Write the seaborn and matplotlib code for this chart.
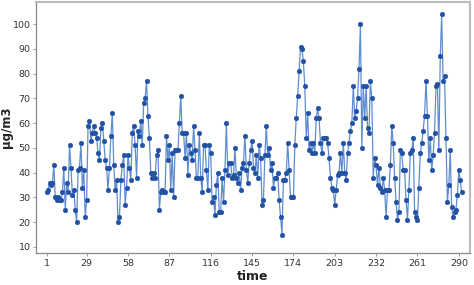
import matplotlib
matplotlib.use("Agg")
import matplotlib.pyplot as plt
import numpy as np
import pandas as pd
import seaborn as sns

# ---------------- Data ----------------
seg_001_029 = [32, 33, 36, 35, 36, 43, 30, 29, 30, 29, 29, 32, 42, 25, 36,
               32, 51, 42, 31, 33, 25, 20, 41, 42, 52, 34, 41, 22, 29]
seg_030_058 = [59, 61, 53, 56, 59, 56, 54, 48, 45, 58, 60, 53, 45, 42, 33,
               42, 55, 64, 43, 33, 37, 20, 22, 37, 43, 47, 27, 34, 47]
seg_059_087 = [42, 37, 56, 59, 51, 38, 57, 55, 61, 51, 68, 70, 77, 63, 54,
               40, 38, 40, 38, 47, 49, 25, 32, 33, 32, 32, 55, 45, 51]
seg_088_116 = [33, 48, 30, 49, 49, 49, 60, 71, 56, 56, 46, 56, 39, 51, 48,
               45, 59, 49, 38, 38, 56, 38, 32, 51, 51, 41, 33, 51, 48]
seg_117_145 = [28, 30, 23, 35, 40, 24, 24, 38, 28, 41, 60, 39, 44, 44, 38,
               39, 50, 38, 36, 40, 33, 42, 44, 55, 41, 36, 44, 49, 53]
seg_146_174 = [42, 40, 47, 38, 51, 46, 27, 29, 47, 59, 47, 50, 41, 44, 34,
               38, 38, 40, 29, 22, 15, 37, 37, 40, 52, 41, 30, 30, 30]
seg_175_203 = [51, 62, 71, 81, 91, 90, 85, 75, 54, 64, 49, 52, 48, 52, 48,
               62, 66, 62, 52, 48, 54, 54, 54, 52, 46, 38, 34, 33, 27]
seg_204_232 = [33, 39, 40, 48, 40, 52, 40, 37, 48, 52, 57, 60, 75, 62, 65,
               70, 82, 100, 50, 75, 62, 75, 58, 56, 77, 70, 38, 46, 43]
seg_233_261 = [35, 42, 34, 32, 38, 33, 22, 33, 33, 43, 59, 52, 38, 28, 21,
               24, 49, 48, 41, 41, 29, 21, 33, 48, 49, 54, 24, 22, 21]
seg_262_end = [34, 48, 52, 57, 63, 77, 63, 45, 54, 41, 47, 56, 75, 76, 49,
               87, 104, 77, 79, 54, 28, 35, 49, 26, 22, 24, 25, 31, 41, 37, 32]

x_ticks = [1, 29, 58, 87, 116, 145, 174, 203, 232, 261, 290]
y_ticks = [10, 20, 30, 40, 50, 60, 70, 80, 90, 100]

values = (seg_001_029 + seg_030_058 + seg_059_087 + seg_088_116 + seg_117_145
          + seg_146_174 + seg_175_203 + seg_204_232 + seg_233_261 + seg_262_end)
df = pd.DataFrame({"time": np.arange(1, len(values) + 1), "conc": values})

# ---------------- Plot ----------------
sns.set_style("white")
plt.rcParams["font.family"] = ["DejaVu Sans"]

fig = plt.figure(figsize=(4.74, 2.85), dpi=100)
ax = fig.add_axes([0.076, 0.112, 0.916, 0.881])

sns.lineplot(data=df, x="time", y="conc", ax=ax, color="#5f8dd0", linewidth=0.9,
             marker="o", markersize=3.3, markerfacecolor="#2352a4",
             markeredgecolor="#2352a4", markeredgewidth=0.4)

ax.set_xlim(-6.5, 298)
ax.set_ylim(7.5, 109)
ax.set_xticks(x_ticks)
ax.set_yticks(y_ticks)
ax.tick_params(axis="both", labelsize=6.8, length=2.5, width=0.7,
               direction="out", bottom=True, left=True, pad=1.5)
ax.tick_params(axis="x", colors="#999999", labelcolor="#333333")
ax.tick_params(axis="y", colors="#999999", labelcolor="#333333")
ax.set_xlabel("time", fontsize=9, fontweight="bold", color="#222222", labelpad=2)
ax.set_ylabel("μg/m3", fontsize=8.5, fontweight="bold", color="#222222")
ax.yaxis.set_label_coords(-0.052, 0.5)

for side in ["left", "bottom"]:
    ax.spines[side].set_color("#8a8a8a")
    ax.spines[side].set_linewidth(0.9)
for side in ["top", "right"]:
    ax.spines[side].set_color("#bbbbbb")
    ax.spines[side].set_linewidth(1.5)

fig.savefig("out.png", dpi=100)
plt.close(fig)
